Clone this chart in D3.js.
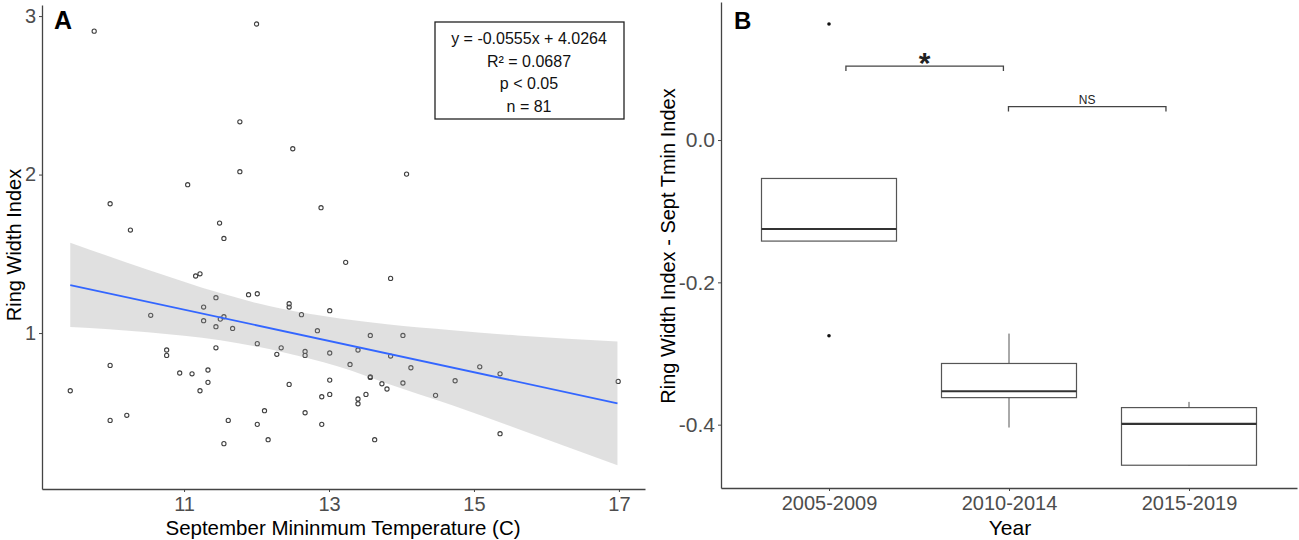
<!DOCTYPE html>
<html>
<head>
<meta charset="utf-8">
<script src="https://cdn.jsdelivr.net/npm/d3@7"></script>
<style>
  body { margin: 0; background: #fff; }
  svg { display: block; }
  text { font-family: "Liberation Sans", Arial, sans-serif; }
</style>
</head>
<body>
<svg width="1299" height="540"></svg>
<script>
// ---- panel A: ring width vs september tmin ----
let tempX = [
  9.76, 12.00, 11.77, 12.50, 11.77, 11.05, 9.98, 12.89, 10.26, 11.49, 11.55, 14.07, 13.23,
  11.16, 11.22, 11.44, 11.89, 12.01, 12.45, 12.45, 13.01, 10.54, 11.27, 11.27, 11.55, 11.50,
  11.44, 11.67, 12.62, 12.84, 12.01, 11.44, 12.34, 12.28, 12.67, 12.67, 13.01, 10.76, 10.76,
  9.98, 10.94, 11.11, 11.33, 11.33, 11.22, 9.43, 12.45, 13.01, 13.01, 12.90, 9.98, 10.21,
  11.61, 12.11, 12.01, 12.67, 12.90, 12.16, 11.55,
  13.85, 13.57, 14.02, 13.40, 13.85, 13.29, 14.13, 15.08, 15.36, 16.99, 13.57, 13.57, 14.74,
  13.73, 14.02, 13.80, 13.51, 13.40, 13.40, 14.47, 15.36, 13.63
];
let ringY = [
  2.905, 2.950, 2.333, 2.163, 2.018, 1.936, 1.816, 1.791, 1.650, 1.694, 1.597, 2.003, 1.446,
  1.360, 1.374, 1.223, 1.242, 1.248, 1.185, 1.164, 1.141, 1.112, 1.164, 1.078, 1.103, 1.088,
  1.040, 1.029, 1.116, 1.015, 0.933, 0.907, 0.907, 0.866, 0.884, 0.859, 0.874, 0.893, 0.859,
  0.796, 0.748, 0.743, 0.767, 0.689, 0.636, 0.636, 0.676, 0.703, 0.613, 0.598, 0.449, 0.481,
  0.449, 0.510, 0.424, 0.497, 0.424, 0.327, 0.302,
  1.345, 0.985, 0.985, 0.893, 0.855, 0.802, 0.781, 0.787, 0.743, 0.695, 0.724, 0.720, 0.699,
  0.680, 0.685, 0.647, 0.613, 0.584, 0.554, 0.607, 0.365, 0.327
];

// fitted line and confidence band
let fitX = [9.43, 16.98];
let fitY = [1.303, 0.557];
let bandX = [9.43, 10.5, 11.5, 12.0, 12.7, 13.15, 13.8, 14.7, 15.6, 16.98];
let bandHi = [1.570, 1.400, 1.252, 1.189, 1.123, 1.092, 1.055, 1.018, 0.985, 0.947];
let bandLo = [1.038, 1.005, 0.955, 0.915, 0.842, 0.786, 0.682, 0.544, 0.396, 0.166];

let statLines = ['y = -0.0555x + 4.0264', 'R\u00b2 = 0.0687', 'p < 0.05', 'n = 81'];
let xTicksA = [11, 13, 15, 17];
let yTicksA = [1, 2, 3];

// ---- panel B: boxplots by period ----
let periods = ['2005-2009', '2010-2014', '2015-2019'];
let boxQ1 = [-0.142, -0.362, -0.457];
let boxMed = [-0.125, -0.353, -0.399];
let boxQ3 = [-0.054, -0.314, -0.376];
let whiskLo = [-0.142, -0.404, -0.458];
let whiskHi = [-0.054, -0.272, -0.368];
let outliers = [[0.163, -0.275], [], []];
let yTicksB = [0.0, -0.2, -0.4];

let sigFrom = [1.094, 1.997];
let sigTo = [1.969, 2.872];
let sigY = [0.104, 0.047];
let sigLabel = ['*', 'NS'];

let svg = d3.select('svg');
let axisColor = '#444';
let labelColor = '#4d4d4d';

function styleAxis(g, size) {
  g.select('.domain').attr('stroke', axisColor).attr('stroke-width', 1.3);
  g.selectAll('.tick line').attr('stroke', axisColor).attr('stroke-width', 1);
  g.selectAll('.tick text')
    .attr('fill', labelColor)
    .style('font-size', size + 'px')
    .style('font-family', '"Liberation Sans", Arial, sans-serif');
}

// ===== A =====
let xA = d3.scaleLinear().domain([9.04, 17.36]).range([42, 645]);
let yA = d3.scaleLinear().domain([0.016, 3.07]).range([489, 5]);

let panelA = svg.append('g');

panelA.append('g')
  .selectAll('circle')
  .data(tempX)
  .enter()
  .append('circle')
  .attr('cx', (d) => xA(d))
  .attr('cy', (d, i) => yA(ringY[i]))
  .attr('r', 2.1)
  .attr('fill', 'none')
  .attr('stroke', '#3f3f3f')
  .attr('stroke-width', 1.1);

let band = d3.area()
  .x((d, i) => xA(bandX[i]))
  .y0((d, i) => yA(bandLo[i]))
  .y1((d, i) => yA(bandHi[i]))
  .curve(d3.curveMonotoneX);

panelA.append('path')
  .datum(bandX)
  .attr('d', band)
  .attr('fill', '#999')
  .attr('fill-opacity', 0.3);

panelA.append('path')
  .datum(fitX)
  .attr('d', d3.line().x((d) => xA(d)).y((d, i) => yA(fitY[i])))
  .attr('stroke', '#3366ff')
  .attr('stroke-width', 1.8)
  .attr('fill', 'none');

let xAxisA = panelA.append('g')
  .attr('transform', 'translate(0,489)')
  .call(d3.axisBottom(xA).tickValues(xTicksA).tickSize(3).tickSizeOuter(0).tickPadding(5).tickFormat(d3.format('d')));
styleAxis(xAxisA, 20);

let yAxisA = panelA.append('g')
  .attr('transform', 'translate(42,0)')
  .call(d3.axisLeft(yA).tickValues(yTicksA).tickSize(3).tickSizeOuter(0).tickPadding(3).tickFormat(d3.format('d')));
styleAxis(yAxisA, 20);

panelA.append('text')
  .attr('x', 343)
  .attr('y', 535)
  .attr('text-anchor', 'middle')
  .style('font-size', '20.5px')
  .text('September Mininmum Temperature (C)');

panelA.append('text')
  .attr('transform', 'translate(21,245) rotate(-90)')
  .attr('text-anchor', 'middle')
  .style('font-size', '20px')
  .text('Ring Width Index');

panelA.append('text')
  .attr('x', 54)
  .attr('y', 29)
  .style('font-size', '25px')
  .style('font-weight', 'bold')
  .text('A');

panelA.append('rect')
  .attr('x', 435)
  .attr('y', 22)
  .attr('width', 189)
  .attr('height', 97)
  .attr('fill', '#fff')
  .attr('stroke', '#222')
  .attr('stroke-width', 1.3);

panelA.append('g')
  .selectAll('text')
  .data(statLines)
  .enter()
  .append('text')
  .attr('x', 529)
  .attr('y', (d, i) => 44 + i * 22.6)
  .attr('text-anchor', 'middle')
  .style('font-size', '16px')
  .attr('fill', '#111')
  .text((d) => d);

// ===== B =====
let xB = d3.scaleLinear().domain([0.4, 3.6]).range([721, 1297]);
let yB = d3.scaleLinear().domain([-0.489, 0.194]).range([488, 2]);
let boxW = 0.75;

let panelB = svg.append('g');

let boxes = panelB.selectAll('g.box')
  .data(periods)
  .enter()
  .append('g')
  .attr('class', 'box');

boxes.append('line')
  .attr('x1', (d, i) => xB(i + 1))
  .attr('x2', (d, i) => xB(i + 1))
  .attr('y1', (d, i) => yB(boxQ3[i]))
  .attr('y2', (d, i) => yB(whiskHi[i]))
  .attr('stroke', '#555')
  .attr('stroke-width', 1);

boxes.append('line')
  .attr('x1', (d, i) => xB(i + 1))
  .attr('x2', (d, i) => xB(i + 1))
  .attr('y1', (d, i) => yB(boxQ1[i]))
  .attr('y2', (d, i) => yB(whiskLo[i]))
  .attr('stroke', '#555')
  .attr('stroke-width', 1);

boxes.append('rect')
  .attr('x', (d, i) => xB(i + 1 - boxW / 2))
  .attr('width', (d, i) => xB(i + 1 + boxW / 2) - xB(i + 1 - boxW / 2))
  .attr('y', (d, i) => yB(boxQ3[i]))
  .attr('height', (d, i) => yB(boxQ1[i]) - yB(boxQ3[i]))
  .attr('fill', '#fff')
  .attr('stroke', '#555')
  .attr('stroke-width', 1.2);

boxes.append('line')
  .attr('x1', (d, i) => xB(i + 1 - boxW / 2))
  .attr('x2', (d, i) => xB(i + 1 + boxW / 2))
  .attr('y1', (d, i) => yB(boxMed[i]))
  .attr('y2', (d, i) => yB(boxMed[i]))
  .attr('stroke', '#333')
  .attr('stroke-width', 2.2);

boxes.each(function (d, i) {
  d3.select(this)
    .selectAll('circle')
    .data(outliers[i])
    .enter()
    .append('circle')
    .attr('cx', xB(i + 1))
    .attr('cy', (v) => yB(v))
    .attr('r', 1.8)
    .attr('fill', '#111');
});

let sig = panelB.selectAll('g.sig')
  .data(sigLabel)
  .enter()
  .append('g')
  .attr('class', 'sig');

sig.append('path')
  .attr('d', (d, i) => {
    let y0 = yB(sigY[i]);
    let a = xB(sigFrom[i]);
    let b = xB(sigTo[i]);
    return `M${a},${y0 + 5}V${y0}H${b}V${y0 + 5}`;
  })
  .attr('fill', 'none')
  .attr('stroke', '#444')
  .attr('stroke-width', 1.3);

sig.append('text')
  .attr('x', (d, i) => xB((sigFrom[i] + sigTo[i]) / 2))
  .attr('y', (d, i) => (d === '*' ? yB(sigY[i]) + 7 : yB(sigY[i]) - 3))
  .attr('text-anchor', 'middle')
  .style('font-size', (d) => (d === '*' ? '30px' : '12px'))
  .style('font-weight', (d) => (d === '*' ? 'bold' : 'normal'))
  .attr('fill', '#222')
  .text((d) => d);

let xAxisB = panelB.append('g')
  .attr('transform', 'translate(0,488)')
  .call(d3.axisBottom(xB).tickValues([1, 2, 3]).tickSize(3).tickSizeOuter(0).tickPadding(5).tickFormat((d) => periods[d - 1]));
styleAxis(xAxisB, 20);

let yAxisB = panelB.append('g')
  .attr('transform', 'translate(721,0)')
  .call(d3.axisLeft(yB).tickValues(yTicksB).tickSize(3).tickSizeOuter(0).tickPadding(3).tickFormat(d3.format('.1f')));
styleAxis(yAxisB, 21);
yAxisB.selectAll('.tick text').text((d) => d3.format('.1f')(d).replace('\u2212', '-'));

panelB.append('text')
  .attr('x', 1010)
  .attr('y', 535)
  .attr('text-anchor', 'middle')
  .style('font-size', '21px')
  .text('Year');

panelB.append('text')
  .attr('transform', 'translate(675,246) rotate(-90)')
  .attr('text-anchor', 'middle')
  .style('font-size', '20px')
  .text('Ring Width Index - Sept Tmin Index');

panelB.append('text')
  .attr('x', 734)
  .attr('y', 29)
  .style('font-size', '24px')
  .style('font-weight', 'bold')
  .text('B');
</script>
</body>
</html>
